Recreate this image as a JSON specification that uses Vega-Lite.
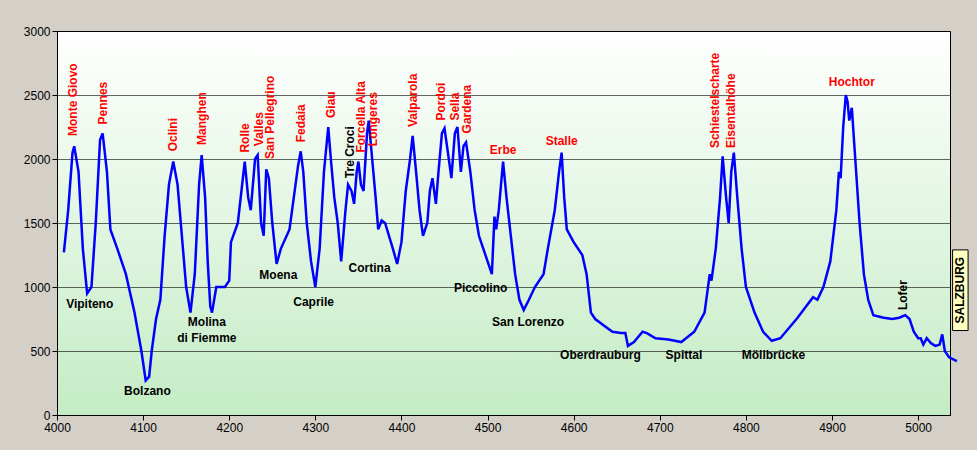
{
 "$schema": "https://vega.github.io/schema/vega-lite/v6.json",
 "width": 893,
 "height": 384,
 "autosize": "none",
 "padding": {"left": 57, "top": 31, "right": 27, "bottom": 35},
 "background": "#d4d0c8",
 "config": {
  "view": {"stroke": "#000000", "strokeWidth": 1,
   "fill": {"gradient": "linear", "x1": 0, "y1": 0, "x2": 0, "y2": 1,
    "stops": [{"offset": 0, "color": "#ffffff"}, {"offset": 1, "color": "#c4ecc4"}]}},
  "font": "Liberation Sans",
  "axis": {"labelFont": "Liberation Sans", "labelFontSize": 12, "labelColor": "#000000", "domainColor": "#000000", "tickColor": "#000000", "title": null, "format": "d", "labelFlush": false}
 },
 "encoding": {
  "x": {"field": "km", "type": "quantitative", "scale": {"domain": [4000, 5037], "nice": false, "zero": false},
   "axis": {"values": [4000,4100,4200,4300,4400,4500,4600,4700,4800,4900,5000], "grid": false}},
  "y": {"field": "h", "type": "quantitative", "scale": {"domain": [0, 3000], "nice": false},
   "axis": {"values": [0,500,1000,1500,2000,2500,3000], "grid": true, "gridColor": "#000000", "gridOpacity": 0.6}}
 },
 "layer": [
  {
   "data": {"values": [
    {"km":4008,"h":1270},{"km":4013,"h":1600},{"km":4018,"h":2050},{"km":4020,"h":2100},{"km":4025,"h":1900},{"km":4030,"h":1300},{"km":4035,"h":950},{"km":4040,"h":1000},{"km":4045,"h":1500},{"km":4050,"h":2150},{"km":4053,"h":2200},{"km":4058,"h":1900},{"km":4062,"h":1450},{"km":4070,"h":1300},{"km":4080,"h":1100},{"km":4090,"h":800},{"km":4098,"h":500},{"km":4103,"h":270},{"km":4107,"h":300},{"km":4110,"h":500},{"km":4115,"h":750},{"km":4120,"h":900},{"km":4125,"h":1400},{"km":4130,"h":1800},{"km":4135,"h":1980},{"km":4140,"h":1800},{"km":4145,"h":1400},{"km":4150,"h":1000},{"km":4155,"h":800},{"km":4160,"h":1100},{"km":4165,"h":1800},{"km":4168,"h":2030},{"km":4172,"h":1700},{"km":4175,"h":1200},{"km":4178,"h":850},{"km":4180,"h":800},{"km":4185,"h":1000},{"km":4195,"h":1000},{"km":4200,"h":1050},{"km":4202,"h":1350},{"km":4210,"h":1500},{"km":4215,"h":1800},{"km":4218,"h":1980},{"km":4222,"h":1700},{"km":4225,"h":1600},{"km":4230,"h":2000},{"km":4233,"h":2030},{"km":4237,"h":1500},{"km":4240,"h":1400},{"km":4243,"h":1920},{"km":4246,"h":1850},{"km":4250,"h":1500},{"km":4255,"h":1180},{"km":4260,"h":1300},{"km":4270,"h":1450},{"km":4275,"h":1700},{"km":4280,"h":1950},{"km":4283,"h":2060},{"km":4286,"h":1900},{"km":4290,"h":1500},{"km":4295,"h":1200},{"km":4300,"h":1000},{"km":4305,"h":1300},{"km":4310,"h":1900},{"km":4315,"h":2250},{"km":4318,"h":2000},{"km":4322,"h":1700},{"km":4326,"h":1500},{"km":4330,"h":1200},{"km":4335,"h":1600},{"km":4338,"h":1800},{"km":4342,"h":1750},{"km":4345,"h":1650},{"km":4348,"h":1900},{"km":4350,"h":1980},{"km":4353,"h":1800},{"km":4356,"h":1750},{"km":4360,"h":2200},{"km":4362,"h":2300},{"km":4366,"h":2000},{"km":4370,"h":1700},{"km":4373,"h":1450},{"km":4377,"h":1520},{"km":4381,"h":1500},{"km":4390,"h":1300},{"km":4395,"h":1180},{"km":4400,"h":1350},{"km":4405,"h":1750},{"km":4410,"h":2000},{"km":4413,"h":2180},{"km":4417,"h":1900},{"km":4421,"h":1600},{"km":4425,"h":1400},{"km":4430,"h":1500},{"km":4433,"h":1750},{"km":4436,"h":1850},{"km":4440,"h":1650},{"km":4443,"h":1900},{"km":4447,"h":2200},{"km":4450,"h":2240},{"km":4455,"h":2000},{"km":4458,"h":1850},{"km":4462,"h":2200},{"km":4465,"h":2250},{"km":4469,"h":1900},{"km":4472,"h":2100},{"km":4475,"h":2130},{"km":4480,"h":1900},{"km":4485,"h":1600},{"km":4490,"h":1400},{"km":4500,"h":1200},{"km":4505,"h":1100},{"km":4508,"h":1550},{"km":4510,"h":1450},{"km":4513,"h":1600},{"km":4518,"h":1980},{"km":4522,"h":1700},{"km":4527,"h":1400},{"km":4532,"h":1100},{"km":4537,"h":900},{"km":4542,"h":820},{"km":4548,"h":900},{"km":4555,"h":1000},{"km":4565,"h":1100},{"km":4570,"h":1300},{"km":4578,"h":1600},{"km":4583,"h":1900},{"km":4586,"h":2050},{"km":4589,"h":1700},{"km":4592,"h":1450},{"km":4600,"h":1350},{"km":4610,"h":1250},{"km":4615,"h":1100},{"km":4620,"h":800},{"km":4625,"h":750},{"km":4635,"h":700},{"km":4645,"h":650},{"km":4655,"h":640},{"km":4660,"h":640},{"km":4663,"h":540},{"km":4670,"h":570},{"km":4680,"h":650},{"km":4685,"h":640},{"km":4695,"h":600},{"km":4710,"h":590},{"km":4725,"h":570},{"km":4740,"h":650},{"km":4752,"h":800},{"km":4758,"h":1100},{"km":4760,"h":1050},{"km":4765,"h":1300},{"km":4770,"h":1700},{"km":4773,"h":2020},{"km":4777,"h":1700},{"km":4780,"h":1500},{"km":4783,"h":1900},{"km":4786,"h":2050},{"km":4790,"h":1700},{"km":4795,"h":1300},{"km":4800,"h":1000},{"km":4810,"h":800},{"km":4820,"h":650},{"km":4830,"h":580},{"km":4840,"h":600},{"km":4850,"h":680},{"km":4860,"h":760},{"km":4870,"h":850},{"km":4878,"h":920},{"km":4883,"h":900},{"km":4890,"h":1000},{"km":4898,"h":1200},{"km":4905,"h":1600},{"km":4908,"h":1900},{"km":4910,"h":1850},{"km":4913,"h":2250},{"km":4916,"h":2500},{"km":4918,"h":2450},{"km":4920,"h":2300},{"km":4923,"h":2400},{"km":4927,"h":2000},{"km":4932,"h":1500},{"km":4937,"h":1100},{"km":4942,"h":900},{"km":4948,"h":780},{"km":4960,"h":760},{"km":4970,"h":750},{"km":4978,"h":760},{"km":4985,"h":780},{"km":4990,"h":750},{"km":4995,"h":650},{"km":5000,"h":600},{"km":5003,"h":600},{"km":5006,"h":550},{"km":5010,"h":600},{"km":5015,"h":560},{"km":5020,"h":540},{"km":5025,"h":550},{"km":5028,"h":630},{"km":5031,"h":500},{"km":5036,"h":450},{"km":5045,"h":420}
   ]},
   "mark": {"type": "line", "color": "#0000ff", "strokeWidth": 2.5}
  },
  {
   "data": {"values": [
    {"km":4018,"h":2180,"t":"Monte Giovo","c":"r"},{"km":4053,"h":2270,"t":"Pennes","c":"r"},{"km":4135,"h":2060,"t":"Oclini","c":"r"},{"km":4168,"h":2110,"t":"Manghen","c":"r"},{"km":4218,"h":2050,"t":"Rolle","c":"r"},{"km":4235,"h":2100,"t":"Valles","c":"r"},{"km":4247,"h":2000,"t":"San Pellegrino","c":"r"},{"km":4283,"h":2130,"t":"Fedaia","c":"r"},{"km":4318,"h":2320,"t":"Giau","c":"r"},{"km":4340,"h":1850,"t":"Tre Croci","c":"k"},{"km":4353,"h":2050,"t":"Forcella Alta","c":"r"},{"km":4367,"h":2100,"t":"Longeres","c":"r"},{"km":4413,"h":2250,"t":"Valparola","c":"r"},{"km":4446,"h":2300,"t":"Pordoi","c":"r"},{"km":4462,"h":2300,"t":"Sella","c":"r"},{"km":4476,"h":2200,"t":"Gardena","c":"r"},{"km":4764,"h":2085,"t":"Schiestelscharte","c":"r"},{"km":4783,"h":2085,"t":"Eisentalhöhe","c":"r"},{"km":4983,"h":820,"t":"Lofer","c":"k"}
   ]},
   "mark": {"type": "text", "angle": 270, "align": "left", "baseline": "middle", "fontWeight": "bold", "fontSize": 12},
   "encoding": {
    "text": {"field": "t"},
    "color": {"field": "c", "type": "nominal", "scale": {"domain": ["r","k"], "range": ["#ff0000","#000000"]}, "legend": null}
   }
  },
  {
   "data": {"values": [
    {"km":4518,"h":2070,"t":"Erbe","c":"r"},{"km":4586,"h":2140,"t":"Stalle","c":"r"},{"km":4923,"h":2600,"t":"Hochtor","c":"r"},
    {"km":4038,"h":870,"t":"Vipiteno","c":"k"},{"km":4105,"h":190,"t":"Bolzano","c":"k"},{"km":4174,"h":730,"t":"Molina","c":"k"},{"km":4174,"h":600,"t":"di Fiemme","c":"k"},{"km":4257,"h":1090,"t":"Moena","c":"k"},{"km":4298,"h":880,"t":"Caprile","c":"k"},{"km":4363,"h":1150,"t":"Cortina","c":"k"},{"km":4492,"h":990,"t":"Piccolino","c":"k"},{"km":4547,"h":730,"t":"San Lorenzo","c":"k"},{"km":4631,"h":470,"t":"Oberdrauburg","c":"k"},{"km":4728,"h":470,"t":"Spittal","c":"k"},{"km":4832,"h":470,"t":"Möllbrücke","c":"k"}
   ]},
   "mark": {"type": "text", "align": "center", "baseline": "middle", "fontWeight": "bold", "fontSize": 12},
   "encoding": {
    "text": {"field": "t"},
    "color": {"field": "c", "type": "nominal", "scale": {"domain": ["r","k"], "range": ["#ff0000","#000000"]}, "legend": null}
   }
  },
  {
   "data": {"values": [{"km":5040,"x2":5058,"h":660,"y2":1290}]},
   "mark": {"type": "rect", "fill": "#ffffc0", "stroke": "#000000", "strokeWidth": 1, "clip": false},
   "encoding": {"x2": {"field": "x2"}, "y2": {"field": "y2"}}
  },
  {
   "data": {"values": [{"km":5049,"h":975,"t":"SALZBURG"}]},
   "mark": {"type": "text", "angle": 270, "align": "center", "baseline": "middle", "fontWeight": "bold", "fontSize": 12, "color": "#000000", "clip": false},
   "encoding": {"text": {"field": "t"}}
  }
 ]
}
